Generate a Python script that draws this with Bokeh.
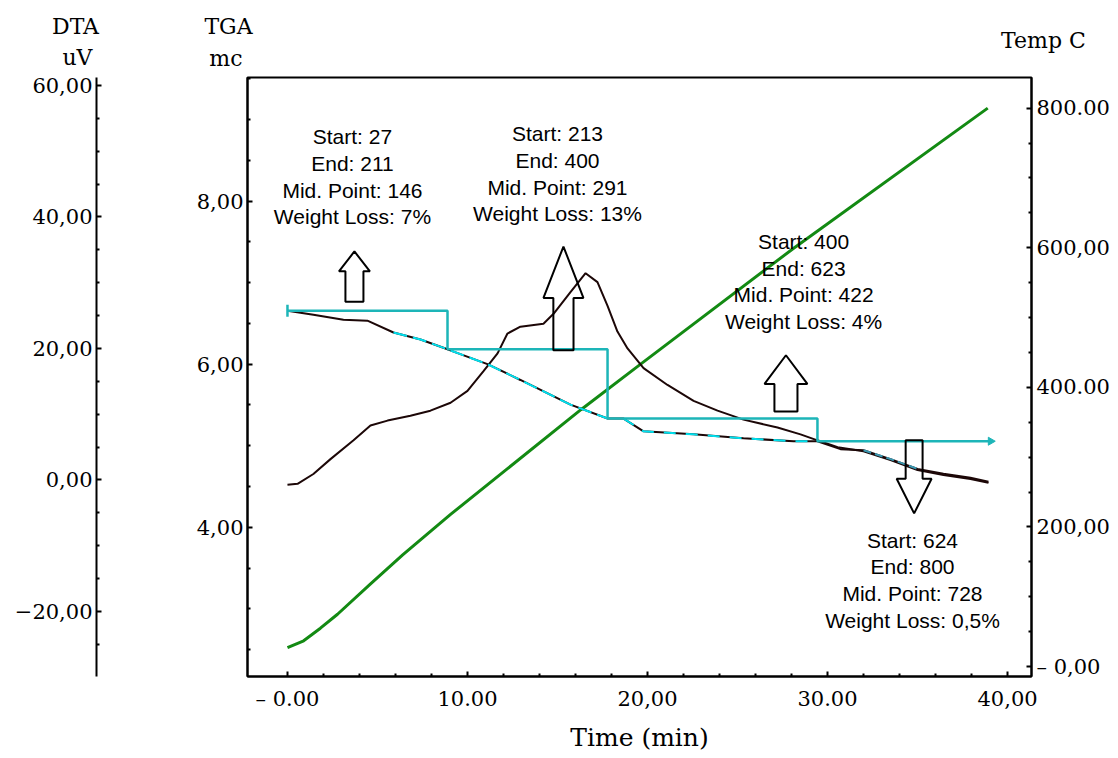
import numpy as np
from bokeh.plotting import figure
from bokeh.models import Range1d, LinearAxis, FixedTicker, ColumnDataSource
from bokeh.embed import file_html
from bokeh.resources import INLINE
from bokeh.core.properties import value

# ---------------- data ----------------
tga_time = [0.00, 1.44, 3.11, 4.44, 5.89, 7.39, 8.89, 11.11, 12.94, 15.72, 17.78,
            18.67, 19.78, 22.56, 25.33, 28.11, 29.44, 30.72, 32.00, 33.50, 35.00,
            36.44, 37.94, 38.94]
tga_mg = [6.655, 6.606, 6.545, 6.533, 6.388, 6.303, 6.182, 6.000, 5.806, 5.503, 5.333,
          5.333, 5.176, 5.139, 5.091, 5.055, 5.055, 4.958, 4.945, 4.836, 4.715,
          4.655, 4.606, 4.558]

dta_time = [0.00, 0.56, 1.44, 2.39, 3.67, 4.61, 5.56, 6.83, 7.94, 9.06, 10.00, 10.89,
            11.67, 12.22, 12.94, 14.22, 14.78, 15.72, 16.56, 17.22, 17.78, 18.33,
            18.89, 19.78, 21.11, 22.56, 23.89, 25.33, 27.22, 28.50, 29.44, 30.56,
            32.00, 33.50, 35.00, 36.44, 37.94, 38.94]
dta_uv = [-0.75, -0.60, 0.90, 3.16, 6.02, 8.27, 9.02, 9.77, 10.53, 11.73, 13.53, 16.54,
          19.25, 22.26, 23.31, 23.76, 25.26, 28.57, 31.43, 30.08, 26.47, 22.56,
          20.00, 16.99, 14.44, 12.03, 10.53, 9.17, 7.97, 6.92, 6.02, 4.96,
          4.36, 3.01, 1.50, 0.75, 0.15, -0.45]

temp_time = [0.00, 0.90, 1.83, 2.78, 4.60, 6.40, 9.06, 16.30, 19.60, 28.10, 38.90]
temp_c = [27, 37, 55, 75, 118, 160, 218, 368, 433, 599, 800]

step_time = [0.00, 8.89, 8.89, 17.78, 17.78, 29.44, 29.44, 39.06]
step_mg = [6.655, 6.655, 6.182, 6.182, 5.333, 5.333, 5.055, 5.055]

ann_lines = [
    ["Start: 27", "End: 211", "Mid. Point: 146", "Weight Loss: 7%"],
    ["Start: 213", "End: 400", "Mid. Point: 291", "Weight Loss: 13%"],
    ["Start: 400", "End: 623", "Mid. Point: 422", "Weight Loss: 4%"],
    ["Start: 624", "End: 800", "Mid. Point: 728", "Weight Loss: 0,5%"],
]
ann_x = [3.61, 15.00, 28.67, 34.72]
ann_y = [8.788, 8.824, 7.503, 3.842]

arrow_x = [3.72, 15.33, 27.69, 34.81]
arrow_base = [6.764, 6.170, 5.418, 5.067]
arrow_neck = [7.139, 6.812, 5.758, 4.594]
arrow_tip = [7.382, 7.442, 6.109, 4.170]
arrow_shaft_hw = [0.50, 0.56, 0.64, 0.47]
arrow_head_hw = [0.86, 1.11, 1.19, 0.97]

time_ticks = [0, 10, 20, 30, 40]
time_labels = ["– 0.00", "10.00", "20,00", "30.00", "40,00"]
tga_ticks = [4, 6, 8]
tga_labels = ["4,00", "6,00", "8,00"]
dta_ticks = [-20, 0, 20, 40, 60]
dta_labels = ["−20,00", "0,00", "20,00", "40,00", "60,00"]
temp_ticks = [0, 200, 400, 600, 800]
temp_labels = ["– 0,00", "200,00", "400.00", "600,00", "800.00"]

# header texts above the plot (text, x px, y px, align)
head_text = ["DTA", "uV", "TGA", "mc", "Temp C"]
head_x = [75, 92, 228, 242, 1043]
head_y = [26, 57, 26, 58, 40]
head_align = ["center", "right", "center", "right", "center"]

# ---------------- styles ----------------
CURVE = "#1c0707"
GREEN = "#138a13"
STEP = "#1db5b8"
CYAN = "#00e0ee"
TEAL = "#3a97b0"
SERIF = "DejaVu Serif"
SANS = "Liberation Sans"
W = 1112
TOP = 71
TOTAL = 754
FRAME_TOP = 77

# ---------------- header strip (separate root, no frame alignment) ----------------
head = figure(width=W, height=TOP, x_range=Range1d(0, W), y_range=Range1d(TOP, 0),
              output_backend="svg", toolbar_location=None,
              x_axis_type=None, y_axis_type=None, min_border=0)
head.outline_line_color = None
head.grid.visible = False
head.text(x=head_x, y=head_y, text=head_text, text_align=head_align,
          text_baseline="middle", text_font=value(SERIF), text_font_size="22px",
          text_color="black")

# ---------------- main plot ----------------
p = figure(width=W, height=TOTAL - TOP,
           x_range=Range1d(-2.22, 41.33), y_range=Range1d(2.17, 9.515),
           output_backend="svg", toolbar_location=None,
           min_border_left=247, min_border_right=W - 247 - 784,
           min_border_top=FRAME_TOP - TOP,
           min_border_bottom=TOTAL - FRAME_TOP - 606)
p.extra_y_ranges = {"dta": Range1d(-29.9, 61.2), "temp": Range1d(-14.2, 843.9)}
p.grid.visible = False
p.outline_line_color = "black"
p.outline_line_width = 2
p.background_fill_color = "white"
p.border_fill_color = "white"


def style_axis(ax, ticks, minor, labels, standoff):
    ax.ticker = FixedTicker(ticks=ticks, minor_ticks=minor)
    ax.major_label_overrides = {t: l for t, l in zip(ticks, labels)}
    ax.major_label_text_font = SERIF
    ax.major_label_text_font_size = "21px"
    ax.major_label_text_color = "black"
    ax.major_label_standoff = standoff
    ax.axis_line_color = "black"
    ax.axis_line_width = 2
    ax.major_tick_line_color = "black"
    ax.minor_tick_line_color = "black"
    ax.major_tick_line_width = 2
    ax.minor_tick_line_width = 2
    ax.major_tick_in = 5
    ax.major_tick_out = 0
    ax.minor_tick_in = 3
    ax.minor_tick_out = 0


# x axis (time)
xax = p.xaxis[0]
style_axis(xax, time_ticks, [t for t in range(2, 41, 2) if t % 10], time_labels, 10)
xax.axis_label = "Time (min)"
xax.axis_label_text_font = SERIF
xax.axis_label_text_font_size = "25px"
xax.axis_label_text_font_style = "normal"
xax.axis_label_text_color = "black"
xax.axis_label_standoff = 9

# TGA axis (default, inner left)
yax = p.yaxis[0]
style_axis(yax, tga_ticks, [2.5, 3, 3.5, 4.5, 5, 5.5, 6.5, 7, 7.5, 8.5, 9, 9.5], tga_labels, 4)
yax.axis_label = " "
yax.axis_label_standoff = 72
yax.axis_label_text_font_size = "20px"

# DTA axis (outer left)
dta_ax = LinearAxis(y_range_name="dta")
style_axis(dta_ax, dta_ticks, [v for v in range(-25, 60, 5) if v % 20], dta_labels, 4)
p.add_layout(dta_ax, "left")

# Temp axis (right)
temp_ax = LinearAxis(y_range_name="temp")
style_axis(temp_ax, temp_ticks, [v for v in range(50, 800, 50) if v % 200], temp_labels, 5)
p.add_layout(temp_ax, "right")

# ---------------- curves ----------------
p.line(temp_time, temp_c, y_range_name="temp", line_color=GREEN, line_width=3)
p.line(dta_time, dta_uv, y_range_name="dta", line_color=CURVE, line_width=2)
p.line(tga_time, tga_mg, line_color=CURVE, line_width=2)

# cyan highlights along the TGA curve
p.line(tga_time[4:11], tga_mg[4:11], line_color=CYAN, line_width=2, line_dash="14 6")
p.line(tga_time[11:17], tga_mg[11:17], line_color=CYAN, line_width=2, line_dash="12 10")
p.line(tga_time[18:21], tga_mg[18:21], line_color=TEAL, line_width=2, line_dash="8 4")

# step line
p.line(step_time, step_mg, line_color=STEP, line_width=2.5)
p.scatter([step_time[0]], [step_mg[0]], marker="dash", angle=np.pi / 2, size=12,
          line_color=STEP, line_width=2.5)
p.scatter([step_time[-1]], [step_mg[-1]], marker="triangle", angle=-np.pi / 2, size=8,
          line_color=STEP, fill_color=STEP)

# hollow block arrows
xs, ys = [], []
for c, b, n, t, s, h in zip(arrow_x, arrow_base, arrow_neck, arrow_tip, arrow_shaft_hw, arrow_head_hw):
    xs.append([c - s, c + s, c + s, c + h, c, c - h, c - s])
    ys.append([b, b, n, n, t, n, n])
p.patches(xs, ys, fill_alpha=0, line_color="black", line_width=2)

# annotation texts
tx, ty, tt, toff = [], [], [], []
for lines, x0, y0 in zip(ann_lines, ann_x, ann_y):
    for i, s in enumerate(lines):
        tx.append(x0)
        ty.append(y0)
        tt.append(s)
        toff.append(i * 26.7)
src = ColumnDataSource(dict(x=tx, y=ty, text=tt, yoff=toff))
p.text(x="x", y="y", text="text", y_offset="yoff", source=src,
       text_font=value(SANS), text_font_size="21px", text_color="black",
       text_align="center", text_baseline="middle")

open("out.html", "w").write(file_html((head, p), INLINE))
